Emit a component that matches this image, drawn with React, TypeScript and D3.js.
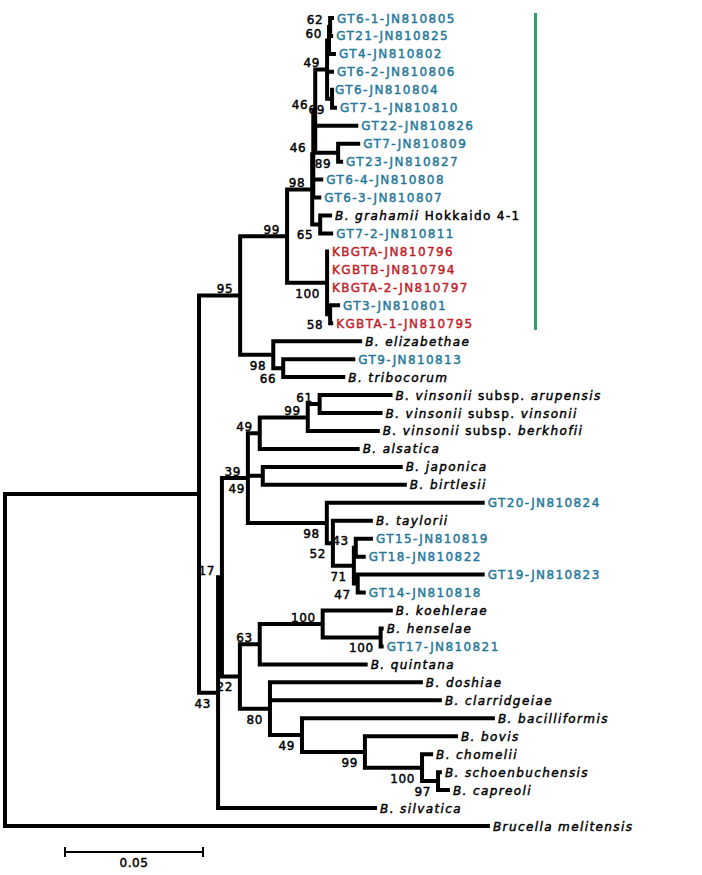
import React from "react";
import * as d3 from "d3";

// Tree topology, branch lengths (substitutions/site) and bootstrap values
const NEWICK =
  "((" +
  "(" +
  "(" +
  "(" +
  "(" +
  "(" +
  "(" +
  "((GT6-1-JN810805:0.0014,GT21-JN810825:0.0011)62:0.0004,GT4-JN810802:0.0025)60:0.0007," +
  "GT6-2-JN810806:0.0025," +
  "(GT6-JN810804:0,GT7-1-JN810810:0.0018)69:0.0018" +
  ")49:0.0043," +
  "GT22-JN810826:0.0156," +
  "(GT7-JN810809:0.008,GT23-JN810827:0.0018)89:0.0083" +
  ")46:0.0007," +
  "GT6-4-JN810808:0.0036," +
  "GT6-3-JN810807:0.0029" +
  ")46:0.0004," +
  "(B. grahamii Hokkaido 4-1:0.0043,GT7-2-JN810811:0.0047)65:0.0029" +
  ")98:0.0091," +
  "(KBGTA-JN810796:0.0007,KGBTB-JN810794:0.0007,KBGTA-2-JN810797:0.0007,(GT3-JN810801:0.0036,KGBTA-1-JN810795:0.0011)58:0.0011)100:0.0145" +
  ")99:0.017," +
  "(B. elizabethae:0.0322,(GT9-JN810813:0.0261,B. tribocorum:0.0225)66:0.0036)98:0.012" +
  ")95:0.0149," +
  "(" +
  "(" +
  "(" +
  "(((B. vinsonii subsp. arupensis:0.0264,B. vinsonii subsp. vinsonii:0.0228)61:0.0043,B. vinsonii subsp. berkhofii:0.0261)99:0.0174,B. alsatica:0.0362)49:0.0043," +
  "(B. japonica:0.0507,B. birtlesii:0.0522):0.0054," +
  "(GT20-JN810824:0.0572,(B. taylorii:0.0145,((GT15-JN810819:0.0062,GT18-JN810822:0.0036)43:0.0007,(GT19-JN810823:0.046,GT14-JN810818:0.0029)47:0.0014)71:0.0076)52:0.0022)98:0.0286" +
  ")39/49:0.0094," +
  "(" +
  "((B. koehlerae:0.0254,(B. henselae:0.0011,GT17-JN810821:0.0011)100:0.021)100:0.0228,B. quintana:0.0391)63:0.0072," +
  "(B. doshiae:0.0554,B. clarridgeiae:0.0623,(B. bacilliformis:0.0699,(B. bovis:0.0337,(B. chomelii:0.004,(B. schoenbuchensis:0.0014,B. capreoli:0.0043)97:0.0058)100:0.0207)99:0.0228)49:0.0116)80:0.0109" +
  ")22:0.0065" +
  ")17:0.0014," +
  "B. silvatica:0.0576" +
  ")43:0.0069" +
  "):0.0703,Brucella melitensis:0.1757);";

const SCALE_BAR_VALUE = 0.05;
const SCALE_BAR_LABEL = "0.05";
const GENOTYPE_PREFIXES = ["GT"];
const KB_PREFIXES = ["KB", "KG"];
const ROMAN_SPLITS = [" subsp. ", " Hokkaido"];

const TEAL = "#25789a";
const RED = "#bf2229";
const GREEN = "#2aa066";
const FONT = "'DejaVu Sans', Verdana, sans-serif";

type NNode = { name: string; length: number; children: NNode[] };

function parseNewick(s: string): NNode {
  let i = 0;
  function parseNode(): NNode {
    const node: NNode = { name: "", length: 0, children: [] };
    if (s[i] === "(") {
      i++;
      node.children.push(parseNode());
      while (s[i] === ",") {
        i++;
        node.children.push(parseNode());
      }
      i++; // ')'
    }
    let label = "";
    while (i < s.length && !",():;".includes(s[i])) label += s[i++];
    node.name = label.trim();
    if (s[i] === ":") {
      i++;
      let num = "";
      while (i < s.length && !",();".includes(s[i])) num += s[i++];
      node.length = parseFloat(num);
    }
    return node;
  }
  return parseNode();
}

function nameParts(name: string): { t: string; it: boolean }[] {
  const species = name.startsWith("B. ") || name.startsWith("Brucella");
  if (!species) return [{ t: name, it: false }];
  for (const sp of ROMAN_SPLITS) {
    const k = name.indexOf(sp);
    if (k >= 0) {
      const rest = name.slice(k + sp.length);
      if (sp.trim() === "subsp.") {
        return [
          { t: name.slice(0, k), it: true },
          { t: " subsp. ", it: false },
          { t: rest, it: true },
        ];
      }
      return [
        { t: name.slice(0, k), it: true },
        { t: name.slice(k), it: false },
      ];
    }
  }
  return [{ t: name, it: true }];
}

function leafColor(name: string) {
  if (GENOTYPE_PREFIXES.some((p) => name.startsWith(p))) return TEAL;
  if (KB_PREFIXES.some((p) => name.startsWith(p))) return RED;
  return "#000";
}

export default function App() {
  const W = 702;
  const H = 875;
  const tree = parseNewick(NEWICK);
  const root: any = d3.hierarchy<NNode>(tree, (d) => (d.children.length ? d.children : null));
  root.each((d: any) => {
    d.dist = d.parent ? d.parent.dist + (d.data.length || 0) : 0;
  });
  const leaves = root.leaves();
  const x = d3.scaleLinear().domain([0, SCALE_BAR_VALUE]).range([5, 143]);
  const y = d3.scaleLinear().domain([0, leaves.length - 1]).range([18, 826]);
  leaves.forEach((l: any, i: number) => (l.yy = y(i)));
  root.eachAfter((d: any) => {
    if (d.children) d.yy = (d.children[0].yy + d.children[d.children.length - 1].yy) / 2;
  });
  const nodes = root.descendants();
  const sw = 4;
  const h = sw / 2;

  const paths: string[] = [];
  nodes.forEach((d: any) => {
    if (d.parent) paths.push(`M${x(d.parent.dist) - h},${d.yy}H${x(d.dist)}`);
    if (d.children) {
      const y0 = d.children[0].yy;
      const y1 = d.children[d.children.length - 1].yy;
      paths.push(`M${x(d.dist)},${y0 - h}V${y1 + h}`);
    }
  });

  const boot: { x: number; y: number; t: string }[] = [];
  nodes.forEach((d: any) => {
    if (!d.children || !d.parent || !d.data.name) return;
    const parts = d.data.name.split("/");
    const isFirst = d.parent.children[0] === d;
    const bx = x(d.dist) - 7;
    const above = d.yy - 2.5;
    const below = d.yy + 15;
    if (parts.length === 2) {
      boot.push({ x: bx, y: above, t: parts[0] });
      boot.push({ x: bx + 4, y: below, t: parts[1] });
    } else {
      boot.push({ x: bx, y: isFirst ? above : below, t: parts[0] });
    }
  });

  const sbX0 = 65;
  const sbX1 = sbX0 + (x(SCALE_BAR_VALUE) - x(0));
  const sbY = 852;
  const ts = 0.45; // text stroke to thicken glyphs

  return (
    <svg
      width={W}
      height={H}
      style={{ position: "absolute", left: 0, top: 0, background: "#fff" }}
      fontFamily={FONT}
    >
      <rect width={W} height={H} fill="#fff" />
      <path d={paths.join("")} stroke="#000" strokeWidth={sw} fill="none" />
      {leaves.map((l: any, i: number) => {
        const c = leafColor(l.data.name);
        return (
          <text
            key={i}
            x={x(l.dist) + 3}
            y={l.yy + 4.5}
            fontSize={12}
            letterSpacing={1.4}
            fill={c}
            stroke={c}
            strokeWidth={ts}
          >
            {nameParts(l.data.name).map((p, j) => (
              <tspan key={j} fontStyle={p.it ? "italic" : "normal"}>
                {p.t}
              </tspan>
            ))}
          </text>
        );
      })}
      {boot.map((b, i) => (
        <text
          key={i}
          x={b.x}
          y={b.y}
          fontSize={12}
          letterSpacing={0.6}
          textAnchor="end"
          fill="#000"
          stroke="#000"
          strokeWidth={ts}
        >
          {b.t}
        </text>
      ))}
      <line x1={535.5} x2={535.5} y1={13} y2={330} stroke={GREEN} strokeWidth={3} />
      <g stroke="#000" strokeWidth={2}>
        <line x1={sbX0} x2={sbX1} y1={sbY} y2={sbY} />
        <line x1={sbX0} x2={sbX0} y1={sbY - 5} y2={sbY + 5} />
        <line x1={sbX1} x2={sbX1} y1={sbY - 5} y2={sbY + 5} />
      </g>
      <text
        x={(sbX0 + sbX1) / 2}
        y={867}
        fontSize={12}
        letterSpacing={0.6}
        textAnchor="middle"
        fill="#000"
        stroke="#000"
        strokeWidth={ts}
      >
        {SCALE_BAR_LABEL}
      </text>
    </svg>
  );
}
